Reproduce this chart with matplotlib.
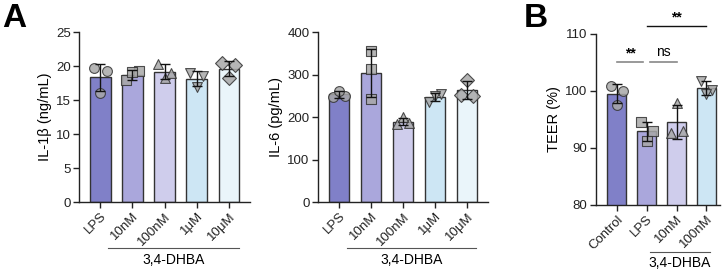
import numpy as np
import matplotlib
matplotlib.use("Agg")
import matplotlib.pyplot as plt

plt.rcParams['font.family'] = ['Liberation Sans', 'DejaVu Sans']
plt.rcParams['font.size'] = 10

# ── Data ──────────────────────────────────────────────────────────────────────
A_LABELS = ["LPS", "10nM", "100nM", "1μM", "10μM"]
IL1B = [
    [19.7, 19.2, 16.1],
    [17.9, 19.2, 19.1],
    [20.3, 19.0, 18.2],
    [18.9, 18.6, 16.9],
    [20.4, 20.2, 18.3],
]
IL6 = [
    [248, 250, 262],
    [355, 312, 243],
    [183, 185, 200],
    [236, 255, 250],
    [252, 250, 288],
]
B_LABELS = ["Control", "LPS", "10nM", "100nM"]
TEER = [
    [100.8, 100.0, 97.6],
    [94.6, 93.0, 91.2],
    [92.6, 92.9, 97.9],
    [101.8, 100.1, 99.5],
]

# ── Style ─────────────────────────────────────────────────────────────────────
COLORS = ['#8080c8', '#aaa7dc', '#cfcdec', '#cde6f4', '#eaf5fa']
MARKERS = ['o', 's', '^', 'v', 'D']
SPREAD = [-0.2, 0.2, 0.0]
STACK = [0.0, 0.0, 0.0]
BAR_W = 0.64
FS = 10
TICK_FS = 9.5


def bar_panel(ax, groups, labels, markers, ylim, yticks, ylabel, offsets):
    x = np.arange(len(groups))
    means = [np.mean(g) for g in groups]
    sds = [np.std(g, ddof=1) for g in groups]
    ax.bar(x, means, width=BAR_W, color=COLORS[:len(groups)],
           edgecolor='#333333', linewidth=1.0, zorder=2)
    for i, g in enumerate(groups):
        ax.scatter(x[i] + np.array(offsets[i]), g, marker=markers[i],
                   s=50, color='#a8a8a8', edgecolors='#333333',
                   linewidths=0.8, alpha=0.85, zorder=3)
    ax.errorbar(x, means, yerr=sds, fmt='none', ecolor='#111111',
                elinewidth=1.0, capsize=3.5, capthick=1.0, zorder=4)
    ax.set_ylim(*ylim)
    ax.set_yticks(yticks)
    ax.set_xticks(x)
    ax.set_xticklabels(labels, rotation=45, ha='right',
                       rotation_mode='anchor')
    ax.set_ylabel(ylabel, fontsize=FS + 0.5, labelpad=3)
    for s in ('top', 'right'):
        ax.spines[s].set_visible(False)
    for s in ('left', 'bottom'):
        ax.spines[s].set_linewidth(1.0)
        ax.spines[s].set_color('#222222')
    ax.tick_params(direction='out', length=4, width=1.0, labelsize=TICK_FS,
                   colors='#222222', pad=2)


def group_line(ax, x0, x1, yline, ytext):
    ax.plot([x0, x1], [yline, yline], transform=ax.get_xaxis_transform(),
            color='#555555', lw=0.8, clip_on=False)
    ax.text((x0 + x1) / 2, ytext, "3,4-DHBA",
            transform=ax.get_xaxis_transform(),
            ha='center', va='center', fontsize=FS)


fig = plt.figure(figsize=(7.25, 2.69), dpi=100)

ax1 = fig.add_axes([0.109, 0.249, 0.236, 0.632])
bar_panel(ax1, IL1B, A_LABELS, MARKERS, (0, 25), range(0, 26, 5),
          "IL-1β (ng/mL)", [SPREAD] * 5)
ax1.set_xlim(-0.66, 4.66)
group_line(ax1, 0.25, 4.3, -0.27, -0.34)

ax2 = fig.add_axes([0.4386, 0.249, 0.2345, 0.632])
bar_panel(ax2, IL6, A_LABELS, MARKERS, (0, 400), range(0, 401, 100),
          "IL-6 (pg/mL)", [SPREAD, STACK, SPREAD, SPREAD, SPREAD])
ax2.set_xlim(-0.66, 4.66)
group_line(ax2, 0.25, 4.3, -0.27, -0.34)

ax3 = fig.add_axes([0.822, 0.238, 0.171, 0.636])
bar_panel(ax3, TEER, B_LABELS, MARKERS[:2] + ['^', 'v'], (80, 110),
          range(80, 111, 10), "TEER (%)", [SPREAD] * 4)
ax3.set_xlim(-0.7, 3.45)
group_line(ax3, 1.1, 3.13, -0.275, -0.34)

# significance annotations
ax3.plot([0.0, 0.88], [105, 105], color='#888888', lw=1.2, clip_on=False)
ax3.text(0.44, 105.3, "**", ha='center', va='bottom', fontsize=FS,
         fontweight='bold')
ax3.plot([1.1, 2.0], [105, 105], color='#888888', lw=1.2, clip_on=False)
ax3.text(1.55, 105.6, "ns", ha='center', va='bottom', fontsize=FS)
ax3.plot([1.01, 2.98], [111.4, 111.4], color='#111111', lw=1.0,
         clip_on=False)
ax3.text(2.0, 111.6, "**", ha='center', va='bottom', fontsize=FS,
         fontweight='bold')

fig.text(0.003, 0.99, "A", fontsize=24, fontweight='bold', va='top')
fig.text(0.722, 0.99, "B", fontsize=24, fontweight='bold', va='top')

fig.savefig("out.png", dpi=100)
